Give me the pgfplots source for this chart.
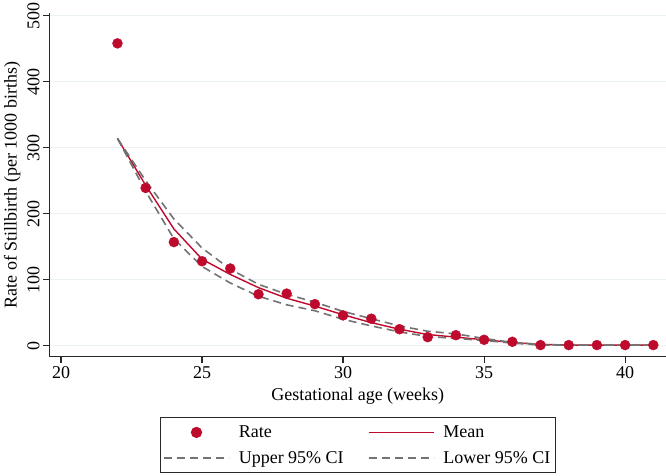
\documentclass[border=0pt]{standalone}
\usepackage{fontspec}
\setmainfont{Liberation Serif}
\usepackage{pgfplots}
\pgfplotsset{compat=1.18}

\definecolor{cranb}{RGB}{190,10,45}
\definecolor{cigray}{RGB}{115,115,115}
\definecolor{gridc}{RGB}{234,242,243}
\definecolor{axc}{RGB}{40,40,40}

\newcommand{\fs}{\fontsize{18bp}{21bp}\selectfont}

\begin{document}
\begin{tikzpicture}
 \begin{axis}[
   scale only axis,
   width=616.5bp, height=343.7bp,
   xmin=19.59, xmax=41.45,
   ymin=-16.6, ymax=504,
   axis lines*=left,
   axis line style={axc, line width=1.2bp},
   tick style={axc, line width=1.2bp},
   tick align=outside,
   major tick length=6.5bp,
   xtick={20,25,...,40},
   ytick={0,100,...,500},
   ymajorgrids,
   grid style={gridc, line width=1.3bp},
   /pgf/number format/assume math mode=true,
   ticklabel style={font=\fs, text=black},
   yticklabel style={rotate=90, anchor=south},
   xlabel={Gestational age (weeks)},
   ylabel={Rate of Stillbirth (per 1000 births)},
   label style={font=\fs},
   xlabel style={yshift=-2bp},
   legend columns=2,
   legend cell align=left,
   legend style={at={(0.5,-0.176)}, anchor=north, font=\fs,
     draw=axc, line width=1.2bp, inner xsep=3bp, inner ysep=6bp,
     /tikz/every odd column/.append style={column sep=7bp},
     /tikz/every even column/.append style={column sep=22bp},
     row sep=8bp},
   legend image code/.code={\draw[mark repeat=2,mark phase=2,#1] plot coordinates {(0bp,0bp) (32.5bp,0bp) (65bp,0bp)};},
  ]
  \addplot [only marks, mark=*, mark size=5bp, cranb, mark options={draw=cranb, fill=cranb}] coordinates {
   (22,458) (23,239) (24,157) (25,128) (26,117) (27,78) (28,79) (29,63) (30,46) (31,41)
   (32,25) (33,13) (34,16) (35,9) (36,6) (37,1) (38,1) (39,1) (40,1) (41,1)};
  \addlegendentry{Rate}
  \addplot [mark=none, cranb, line width=1.4bp] coordinates {
   (22,314) (23,243) (24,177) (25,131) (26,108) (27,88) (28,72) (29,60) (30,47) (31,35)
   (32,25) (33,17) (34,13) (35,9) (36,5) (37,2) (38,1) (39,1) (40,1) (41,1)};
  \addlegendentry{Mean}
  \addplot [mark=none, cigray, line width=1.6bp, dash pattern=on 8bp off 5bp] coordinates {
   (22,314) (23,250) (24,192) (25,148) (26,116) (27,93) (28,78) (29,66) (30,52) (31,41)
   (32,30) (33,22) (34,18) (35,11) (36,5) (37,2) (38,1) (39,1) (40,1) (41,1)};
  \addlegendentry{Upper 95\% CI}
  \addplot [mark=none, cigray, line width=1.6bp, dash pattern=on 8bp off 5bp] coordinates {
   (22,314) (23,234) (24,162) (25,120) (26,95) (27,75) (28,62) (29,53) (30,40) (31,30)
   (32,21) (33,14) (34,11) (35,8) (36,4) (37,1) (38,1) (39,1) (40,1) (41,1)};
  \addlegendentry{Lower 95\% CI}
 \end{axis}
 \pgfresetboundingbox
 \path[use as bounding box] ([xshift=-49.5bp, yshift=-119.3bp]current axis.south west) rectangle ([yshift=13bp]current axis.north east);
\end{tikzpicture}
\end{document}
